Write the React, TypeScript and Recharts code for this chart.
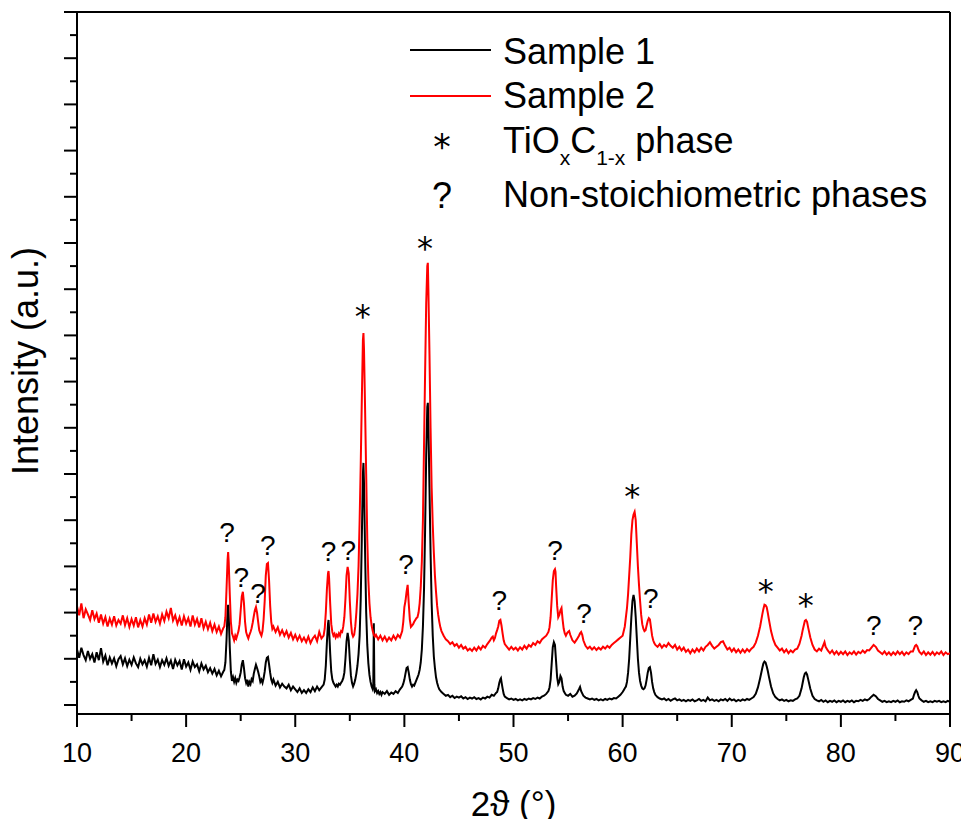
import {
  ComposedChart,
  Line,
  Scatter,
  XAxis,
  YAxis,
  ReferenceLine,
  Legend,
  Label,
} from 'recharts';

const FONT = '"Liberation Sans", Arial, sans-serif';

// 2θ (deg), intensity (a.u.)
const sample1: [number, number][] = [
  [10.0, 120], [10.2, 102], [10.4, 124], [10.6, 108], [10.8, 97], [11.0, 117], [11.2, 100], [11.4, 110],
  [11.6, 92], [11.8, 114], [12.0, 97], [12.2, 123], [12.4, 94], [12.6, 107], [12.8, 86], [13.0, 103],
  [13.2, 90], [13.4, 101], [13.6, 84], [13.8, 99], [14.0, 106], [14.2, 88], [14.4, 101], [14.6, 84],
  [14.8, 98], [15.0, 87], [15.2, 103], [15.4, 90], [15.6, 82], [15.8, 100], [16.0, 88], [16.2, 97],
  [16.4, 83], [16.6, 102], [16.8, 86], [17.0, 110], [17.2, 89], [17.4, 98], [17.6, 82], [17.8, 97],
  [18.0, 87], [18.2, 101], [18.4, 85], [18.6, 96], [18.8, 78], [19.0, 98], [19.2, 86], [19.4, 95],
  [19.6, 77], [19.8, 99], [20.0, 83], [20.2, 92], [20.4, 76], [20.6, 94], [20.8, 82], [21.0, 88],
  [21.2, 73], [21.4, 90], [21.6, 77], [21.8, 85], [22.0, 71], [22.2, 80], [22.4, 68], [22.6, 78],
  [22.8, 64], [23.0, 74], [23.2, 62], [23.4, 72], [23.5, 76], [23.6, 92], [23.7, 140], [23.8, 205],
  [23.85, 217], [23.9, 195], [24.0, 125], [24.1, 72], [24.2, 52], [24.3, 60], [24.4, 50], [24.5, 58],
  [24.6, 48], [24.7, 55], [24.8, 52], [24.9, 60], [25.0, 70], [25.1, 88], [25.2, 97], [25.3, 80],
  [25.4, 58], [25.5, 48], [25.6, 55], [25.7, 40], [25.8, 50], [25.9, 45], [26.0, 56], [26.1, 52],
  [26.2, 68], [26.3, 78], [26.4, 87], [26.5, 80], [26.6, 72], [26.7, 62], [26.8, 50], [26.9, 55],
  [27.0, 48], [27.1, 58], [27.2, 72], [27.3, 92], [27.4, 102], [27.5, 104], [27.6, 88], [27.7, 70],
  [27.8, 55], [27.9, 48], [28.0, 55], [28.2, 42], [28.4, 50], [28.6, 38], [28.8, 46], [29.0, 40],
  [29.2, 36], [29.4, 44], [29.6, 32], [29.8, 40], [30.0, 34], [30.2, 28], [30.4, 36], [30.6, 26],
  [30.8, 32], [31.0, 26], [31.2, 34], [31.4, 28], [31.6, 38], [31.8, 30], [32.0, 40], [32.2, 32],
  [32.4, 38], [32.6, 44], [32.7, 55], [32.8, 85], [32.9, 135], [33.0, 175], [33.05, 184], [33.1, 165],
  [33.2, 112], [33.3, 72], [33.4, 55], [33.5, 48], [33.6, 44], [33.7, 40], [33.8, 44], [33.9, 40],
  [34.0, 46], [34.1, 44], [34.2, 48], [34.3, 52], [34.4, 58], [34.5, 70], [34.6, 100], [34.7, 138],
  [34.8, 156], [34.9, 140], [35.0, 98], [35.1, 64], [35.2, 48], [35.3, 40], [35.4, 46], [35.5, 55],
  [35.6, 68], [35.7, 85], [35.8, 110], [35.9, 150], [36.0, 230], [36.1, 360], [36.2, 500], [36.25, 524],
  [36.3, 480], [36.4, 330], [36.5, 200], [36.6, 130], [36.7, 90], [36.8, 65], [36.9, 50], [37.0, 40],
  [37.1, 34], [37.15, 40], [37.2, 177], [37.25, 45], [37.3, 30], [37.4, 34], [37.5, 26], [37.6, 30],
  [37.7, 24], [37.8, 28], [37.9, 22], [38.0, 28], [38.2, 24], [38.4, 30], [38.6, 22], [38.8, 27],
  [39.0, 24], [39.2, 30], [39.4, 26], [39.6, 34], [39.8, 40], [39.9, 46], [40.0, 55], [40.1, 68],
  [40.2, 80], [40.3, 82], [40.4, 70], [40.5, 55], [40.6, 45], [40.7, 40], [40.8, 44], [40.9, 42],
  [41.0, 48], [41.1, 54], [41.2, 60], [41.3, 66], [41.4, 76], [41.5, 92], [41.6, 120], [41.7, 170],
  [41.8, 250], [41.9, 380], [42.0, 540], [42.1, 645], [42.15, 654], [42.2, 610], [42.3, 470], [42.4, 330],
  [42.5, 220], [42.6, 150], [42.7, 105], [42.8, 80], [42.9, 60], [43.0, 48], [43.1, 40], [43.2, 34],
  [43.4, 28], [43.6, 24], [43.8, 20], [44.0, 22], [44.2, 17], [44.4, 20], [44.6, 15], [44.8, 18],
  [45.0, 16], [45.2, 19], [45.4, 14], [45.6, 17], [45.8, 13], [46.0, 16], [46.2, 14], [46.4, 17],
  [46.6, 13], [46.8, 15], [47.0, 12], [47.2, 16], [47.4, 14], [47.6, 18], [47.8, 16], [48.0, 22],
  [48.2, 20], [48.4, 26], [48.5, 28], [48.6, 36], [48.7, 48], [48.8, 56], [48.85, 58], [48.9, 50],
  [49.0, 36], [49.1, 24], [49.2, 18], [49.4, 15], [49.6, 12], [49.8, 14], [50.0, 11], [50.2, 13],
  [50.4, 10], [50.6, 12], [50.8, 10], [51.0, 13], [51.2, 11], [51.4, 14], [51.6, 12], [51.8, 15],
  [52.0, 13], [52.2, 16], [52.4, 14], [52.6, 18], [52.8, 20], [53.0, 24], [53.2, 30], [53.3, 38],
  [53.4, 55], [53.5, 90], [53.6, 125], [53.7, 136], [53.8, 130], [53.9, 95], [54.0, 60], [54.1, 45],
  [54.2, 50], [54.3, 63], [54.4, 58], [54.5, 40], [54.6, 30], [54.7, 26], [54.8, 22], [55.0, 20],
  [55.2, 24], [55.4, 18], [55.6, 20], [55.8, 25], [56.0, 34], [56.1, 39], [56.2, 30], [56.4, 20],
  [56.6, 16], [56.8, 14], [57.0, 12], [57.2, 14], [57.4, 11], [57.6, 13], [57.8, 10], [58.0, 12],
  [58.2, 10], [58.4, 13], [58.6, 11], [58.8, 14], [59.0, 12], [59.2, 15], [59.4, 14], [59.6, 18],
  [59.8, 22], [60.0, 28], [60.1, 32], [60.2, 36], [60.3, 40], [60.4, 50], [60.5, 70], [60.6, 100],
  [60.7, 145], [60.8, 190], [60.9, 225], [61.0, 238], [61.1, 225], [61.2, 190], [61.3, 145], [61.4, 100],
  [61.5, 70], [61.6, 52], [61.7, 42], [61.8, 36], [61.9, 34], [62.0, 36], [62.1, 42], [62.2, 55],
  [62.3, 70], [62.4, 80], [62.5, 82], [62.6, 70], [62.7, 50], [62.8, 36], [62.9, 28], [63.0, 22],
  [63.2, 17], [63.4, 14], [63.6, 12], [63.8, 14], [64.0, 10], [64.2, 13], [64.4, 9], [64.6, 12],
  [64.8, 14], [65.0, 10], [65.2, 12], [65.4, 9], [65.6, 11], [65.8, 8], [66.0, 11], [66.2, 9],
  [66.4, 12], [66.6, 8], [66.8, 10], [67.0, 13], [67.2, 9], [67.4, 11], [67.6, 8], [67.8, 16],
  [68.0, 10], [68.2, 12], [68.4, 9], [68.6, 11], [68.8, 8], [69.0, 12], [69.2, 10], [69.4, 13],
  [69.6, 9], [69.8, 14], [70.0, 10], [70.2, 12], [70.4, 8], [70.6, 11], [70.8, 9], [71.0, 12],
  [71.2, 10], [71.4, 13], [71.6, 11], [71.8, 14], [72.0, 17], [72.2, 24], [72.4, 38], [72.6, 58],
  [72.8, 80], [72.9, 90], [73.0, 94], [73.1, 92], [73.2, 84], [73.3, 74], [73.4, 62], [73.6, 40],
  [73.8, 25], [74.0, 17], [74.2, 13], [74.4, 10], [74.6, 12], [74.8, 9], [75.0, 11], [75.2, 8],
  [75.4, 10], [75.6, 9], [75.8, 12], [76.0, 14], [76.2, 20], [76.4, 36], [76.5, 48], [76.6, 60],
  [76.7, 68], [76.8, 70], [76.9, 66], [77.0, 56], [77.2, 35], [77.4, 20], [77.6, 13], [77.8, 10],
  [78.0, 8], [78.2, 11], [78.4, 7], [78.6, 10], [78.8, 6], [79.0, 9], [79.2, 7], [79.4, 10],
  [79.6, 6], [79.8, 9], [80.0, 7], [80.2, 10], [80.4, 6], [80.6, 9], [80.8, 7], [81.0, 10],
  [81.2, 6], [81.4, 9], [81.6, 8], [81.8, 11], [82.0, 9], [82.2, 12], [82.4, 10], [82.6, 13],
  [82.8, 18], [83.0, 22], [83.2, 19], [83.4, 13], [83.6, 10], [83.8, 7], [84.0, 9], [84.2, 6],
  [84.4, 8], [84.6, 6], [84.8, 9], [85.0, 7], [85.2, 10], [85.4, 6], [85.6, 8], [85.8, 7],
  [86.0, 10], [86.2, 8], [86.4, 11], [86.6, 14], [86.7, 22], [86.8, 28], [86.9, 32], [87.0, 28],
  [87.1, 20], [87.2, 14], [87.4, 10], [87.6, 7], [87.8, 9], [88.0, 6], [88.2, 8], [88.4, 6],
  [88.6, 9], [88.8, 7], [89.0, 9], [89.2, 6], [89.4, 8], [89.6, 6], [89.8, 9], [90.0, 7],
];

const sample2: [number, number][] = [
  [10.0, 214], [10.2, 194], [10.4, 220], [10.6, 188], [10.8, 207], [11.0, 196], [11.2, 184], [11.4, 205],
  [11.6, 186], [11.8, 198], [12.0, 178], [12.2, 196], [12.4, 176], [12.6, 190], [12.8, 170], [13.0, 187],
  [13.2, 174], [13.4, 192], [13.6, 172], [13.8, 184], [14.0, 176], [14.2, 194], [14.4, 173], [14.6, 188],
  [14.8, 169], [15.0, 186], [15.2, 172], [15.4, 190], [15.6, 168], [15.8, 184], [16.0, 170], [16.2, 188],
  [16.4, 174], [16.6, 196], [16.8, 178], [17.0, 198], [17.2, 180], [17.4, 192], [17.6, 176], [17.8, 196],
  [18.0, 182], [18.2, 202], [18.4, 188], [18.6, 210], [18.8, 183], [19.0, 194], [19.2, 176], [19.4, 190],
  [19.6, 172], [19.8, 192], [20.0, 176], [20.2, 188], [20.4, 170], [20.6, 194], [20.8, 174], [21.0, 186],
  [21.2, 168], [21.4, 188], [21.6, 166], [21.8, 180], [22.0, 164], [22.2, 178], [22.4, 160], [22.6, 174],
  [22.8, 158], [23.0, 170], [23.2, 154], [23.4, 166], [23.5, 170], [23.6, 190], [23.7, 250], [23.8, 315],
  [23.85, 331], [23.9, 310], [24.0, 240], [24.1, 180], [24.2, 155], [24.3, 148], [24.4, 140], [24.5, 150],
  [24.6, 144], [24.7, 152], [24.8, 160], [24.9, 175], [25.0, 205], [25.1, 235], [25.2, 245], [25.3, 220],
  [25.4, 180], [25.5, 158], [25.6, 150], [25.7, 144], [25.8, 152], [25.9, 158], [26.0, 166], [26.1, 178],
  [26.2, 192], [26.3, 205], [26.4, 212], [26.5, 200], [26.6, 180], [26.7, 162], [26.8, 155], [26.9, 150],
  [27.0, 160], [27.1, 185], [27.2, 225], [27.3, 280], [27.4, 305], [27.5, 307], [27.6, 270], [27.7, 215],
  [27.8, 180], [27.9, 165], [28.0, 170], [28.2, 158], [28.4, 168], [28.6, 152], [28.8, 162], [29.0, 150],
  [29.2, 160], [29.4, 146], [29.6, 156], [29.8, 142], [30.0, 152], [30.2, 140], [30.4, 150], [30.6, 138],
  [30.8, 146], [31.0, 136], [31.2, 148], [31.4, 134], [31.6, 144], [31.8, 150], [32.0, 138], [32.2, 158],
  [32.4, 144], [32.6, 150], [32.7, 165], [32.8, 200], [32.9, 250], [33.0, 285], [33.05, 290], [33.1, 275],
  [33.2, 220], [33.3, 175], [33.4, 158], [33.5, 150], [33.6, 154], [33.7, 146], [33.8, 152], [33.9, 148],
  [34.0, 155], [34.1, 150], [34.2, 160], [34.3, 158], [34.4, 170], [34.5, 190], [34.6, 230], [34.7, 280],
  [34.8, 299], [34.9, 285], [35.0, 225], [35.1, 180], [35.2, 155], [35.3, 148], [35.4, 152], [35.5, 170],
  [35.6, 200], [35.7, 240], [35.8, 300], [35.9, 400], [36.0, 520], [36.1, 660], [36.2, 790], [36.25, 805],
  [36.3, 770], [36.4, 640], [36.5, 500], [36.6, 360], [36.7, 270], [36.8, 220], [36.9, 190], [37.0, 172],
  [37.1, 160], [37.2, 152], [37.3, 148], [37.4, 152], [37.6, 142], [37.8, 150], [38.0, 140], [38.2, 148],
  [38.4, 138], [38.6, 146], [38.8, 140], [39.0, 150], [39.2, 142], [39.4, 152], [39.6, 146], [39.8, 160],
  [39.9, 180], [40.0, 212], [40.1, 225], [40.2, 245], [40.3, 260], [40.4, 220], [40.5, 185], [40.6, 169],
  [40.7, 172], [40.8, 175], [40.9, 180], [41.0, 184], [41.1, 188], [41.2, 190], [41.3, 200], [41.4, 220],
  [41.5, 255], [41.6, 310], [41.7, 400], [41.8, 560], [41.9, 720], [42.0, 870], [42.1, 950], [42.15, 957],
  [42.2, 900], [42.3, 760], [42.4, 600], [42.5, 470], [42.6, 390], [42.7, 330], [42.8, 280], [42.9, 245],
  [43.0, 215], [43.1, 195], [43.2, 180], [43.3, 168], [43.4, 160], [43.6, 150], [43.8, 142], [44.0, 138],
  [44.2, 132], [44.4, 136], [44.6, 128], [44.8, 132], [45.0, 124], [45.2, 130], [45.4, 122], [45.6, 126],
  [45.8, 118], [46.0, 122], [46.2, 117], [46.4, 124], [46.6, 118], [46.8, 126], [47.0, 120], [47.2, 128],
  [47.4, 124], [47.6, 132], [47.8, 138], [47.9, 142], [48.0, 146], [48.1, 148], [48.2, 140], [48.3, 145],
  [48.4, 155], [48.5, 162], [48.6, 170], [48.7, 182], [48.8, 184], [48.9, 172], [49.0, 155], [49.1, 140],
  [49.2, 132], [49.4, 126], [49.6, 120], [49.8, 126], [50.0, 120], [50.2, 124], [50.4, 118], [50.6, 125],
  [50.8, 120], [51.0, 128], [51.2, 122], [51.4, 130], [51.6, 126], [51.8, 134], [52.0, 130], [52.2, 138],
  [52.4, 134], [52.6, 142], [52.8, 146], [53.0, 150], [53.2, 158], [53.3, 168], [53.4, 190], [53.5, 230],
  [53.6, 270], [53.7, 290], [53.8, 294], [53.85, 288], [53.9, 260], [54.0, 215], [54.1, 190], [54.2, 195],
  [54.3, 205], [54.4, 210], [54.5, 185], [54.6, 165], [54.7, 155], [54.8, 150], [54.9, 155], [55.0, 158],
  [55.1, 160], [55.2, 152], [55.4, 140], [55.6, 135], [55.8, 142], [56.0, 150], [56.1, 155], [56.2, 158],
  [56.3, 152], [56.4, 140], [56.6, 128], [56.8, 122], [57.0, 126], [57.2, 120], [57.4, 125], [57.6, 119],
  [57.8, 124], [58.0, 120], [58.2, 126], [58.4, 122], [58.6, 128], [58.8, 124], [59.0, 130], [59.2, 134],
  [59.4, 138], [59.6, 142], [59.8, 146], [60.0, 150], [60.2, 170], [60.3, 190], [60.4, 210], [60.5, 240],
  [60.6, 280], [60.7, 320], [60.8, 370], [60.9, 400], [61.0, 412], [61.1, 418], [61.2, 400], [61.3, 350],
  [61.4, 300], [61.5, 260], [61.6, 225], [61.7, 195], [61.8, 175], [61.9, 165], [62.0, 160], [62.1, 162],
  [62.2, 172], [62.3, 182], [62.4, 188], [62.5, 185], [62.6, 168], [62.7, 150], [62.8, 140], [62.9, 134],
  [63.0, 130], [63.2, 126], [63.4, 132], [63.6, 124], [63.8, 130], [64.0, 126], [64.2, 134], [64.4, 128],
  [64.6, 124], [64.8, 130], [65.0, 120], [65.2, 126], [65.4, 118], [65.6, 124], [65.8, 115], [66.0, 120],
  [66.2, 112], [66.4, 120], [66.6, 114], [66.8, 122], [67.0, 116], [67.2, 124], [67.4, 118], [67.6, 126],
  [67.8, 130], [68.0, 136], [68.2, 128], [68.4, 122], [68.6, 126], [68.8, 130], [69.0, 136], [69.2, 138],
  [69.4, 128], [69.6, 120], [69.8, 124], [70.0, 116], [70.2, 122], [70.4, 114], [70.6, 120], [70.8, 113],
  [71.0, 120], [71.2, 114], [71.4, 121], [71.6, 116], [71.8, 122], [72.0, 126], [72.2, 135], [72.4, 150],
  [72.6, 170], [72.8, 196], [72.9, 208], [73.0, 217], [73.1, 216], [73.2, 212], [73.3, 200], [73.4, 186],
  [73.6, 160], [73.8, 142], [74.0, 130], [74.2, 124], [74.4, 118], [74.6, 122], [74.8, 114], [75.0, 120],
  [75.2, 112], [75.4, 118], [75.6, 114], [75.8, 120], [76.0, 122], [76.2, 132], [76.4, 150], [76.5, 162],
  [76.6, 172], [76.7, 182], [76.8, 184], [76.9, 180], [77.0, 168], [77.2, 146], [77.4, 130], [77.6, 120],
  [77.8, 116], [78.0, 122], [78.2, 118], [78.4, 130], [78.5, 136], [78.6, 126], [78.8, 118], [79.0, 112],
  [79.2, 118], [79.4, 110], [79.6, 116], [79.8, 109], [80.0, 115], [80.2, 110], [80.4, 116], [80.6, 108],
  [80.8, 114], [81.0, 110], [81.2, 116], [81.4, 109], [81.6, 115], [81.8, 112], [82.0, 118], [82.2, 113],
  [82.4, 119], [82.6, 118], [82.8, 124], [83.0, 130], [83.2, 126], [83.4, 118], [83.6, 114], [83.8, 110],
  [84.0, 116], [84.2, 109], [84.4, 114], [84.6, 108], [84.8, 114], [85.0, 109], [85.2, 116], [85.4, 110],
  [85.6, 115], [85.8, 108], [86.0, 114], [86.2, 110], [86.4, 116], [86.6, 116], [86.7, 122], [86.8, 128],
  [86.9, 130], [87.0, 127], [87.1, 120], [87.2, 115], [87.4, 110], [87.6, 116], [87.8, 108], [88.0, 114],
  [88.2, 109], [88.4, 115], [88.6, 108], [88.8, 114], [89.0, 110], [89.2, 116], [89.4, 108], [89.6, 114],
  [89.8, 110], [90.0, 112],
];

// peak markers: [2θ, height where the symbol sits]
const tiocPeaks: [number, number][] = [
  [36.19, 855], [41.9, 1003], [60.88, 465], [73.12, 260], [76.78, 229],
];
const unknownPeaks: [number, number][] = [
  [23.74, 375], [25.05, 278], [26.58, 242], [27.49, 346], [33.06, 333], [34.87, 336], [40.16, 305],
  [48.7, 227], [53.8, 336], [56.46, 200], [62.59, 232], [83.02, 173], [86.83, 173],
];

const xTicks = [10, 15, 20, 25, 30, 35, 40, 45, 50, 55, 60, 65, 70, 75, 80, 85, 90];
const yTicks = [
  0, 50, 100, 150, 200, 250, 300, 350, 400, 450, 500, 550, 600, 650, 700, 750,
  800, 850, 900, 950, 1000, 1050, 1100, 1150, 1200, 1250, 1300, 1350, 1400, 1450, 1500,
];

const toPoints = (rows: [number, number][]) => rows.map(([x, y]) => ({ x, y }));

function XTick({ x, y, payload }: any) {
  const major = payload.value % 10 === 0;
  return (
    <g>
      <line x1={x} y1={y} x2={x} y2={y + (major ? 13 : 7)} stroke="#000" strokeWidth={2} />
      {major && (
        <text x={x} y={y + 48} textAnchor="middle" fontSize={27} fontFamily={FONT} fill="#000">
          {payload.value}
        </text>
      )}
    </g>
  );
}

function YTick({ x, y, payload }: any) {
  const major = payload.value % 100 === 0;
  return <line x1={x} y1={y} x2={x - (major ? 13 : 7)} y2={y} stroke="#000" strokeWidth={2} />;
}

const QuestionMark = (props: any) => (
  <text x={props.cx} y={props.cy + 10} textAnchor="middle" fontSize={28} fontFamily={FONT} fill="#000">
    ?
  </text>
);

const Asterisk = (props: any) => (
  <text x={props.cx} y={props.cy + 17} textAnchor="middle" fontSize={32} fontFamily="DejaVu Sans" fill="#000">
    *
  </text>
);

function XTitle({ viewBox }: any) {
  const vb = viewBox ?? { x: 77, y: 714, width: 873, height: 113 };
  return (
    <text x={vb.x + vb.width / 2} y={vb.y + 102} textAnchor="middle" fontSize={35} fontFamily={FONT} fill="#000">
      2ϑ (°)
    </text>
  );
}

function YTitle({ viewBox }: any) {
  const vb = viewBox ?? { x: 0, y: 12, width: 77, height: 702 };
  const cx = vb.x + 38;
  const cy = vb.y + vb.height / 2 - 2;
  return (
    <text
      x={cx}
      y={cy}
      transform={`rotate(-90, ${cx}, ${cy})`}
      textAnchor="middle"
      fontSize={36}
      fontFamily={FONT}
      fill="#000"
    >
      Intensity (a.u.)
    </text>
  );
}

function PhaseLegend() {
  const txt = { fontSize: 36, fontFamily: FONT, fill: '#000' };
  return (
    <svg width={560} height={200} style={{ display: 'block', overflow: 'visible' }}>
      <line x1={10} y1={25} x2={91} y2={25} stroke="#000" strokeWidth={2} />
      <text x={103} y={39} {...txt}>Sample 1</text>
      <line x1={10} y1={71} x2={91} y2={71} stroke="#ff0000" strokeWidth={2} />
      <text x={103} y={83} {...txt}>Sample 2</text>
      <text x={42} y={134} textAnchor="middle" fontSize={35} fontFamily="DejaVu Sans" fill="#000">*</text>
      <text x={103} y={128} {...txt}>
        TiO
        <tspan fontSize={21} dy={12}>x</tspan>
        <tspan dy={-12}>C</tspan>
        <tspan fontSize={21} dy={12}>1-x</tspan>
        <tspan dy={-12}> phase</tspan>
      </text>
      <text x={42} y={183} textAnchor="middle" {...txt}>?</text>
      <text x={103} y={182} {...txt}>Non-stoichiometric phases</text>
    </svg>
  );
}

export default function App() {
  return (
    <div style={{ margin: -8 }}>
      <ComposedChart width={969} height={827} margin={{ top: 12, right: 19, bottom: 0, left: 0 }}>
        <XAxis
          type="number"
          dataKey="x"
          domain={[10, 90]}
          ticks={xTicks}
          interval={0}
          allowDataOverflow
          height={113}
          tickSize={0}
          tickMargin={0}
          tickLine={false}
          tick={<XTick />}
          axisLine={{ stroke: '#000', strokeWidth: 2 }}
        >
          <Label content={XTitle} />
        </XAxis>
        <YAxis
          type="number"
          domain={[-19.5, 1500]}
          ticks={yTicks}
          interval={0}
          allowDataOverflow
          width={77}
          tickSize={0}
          tickMargin={0}
          tickLine={false}
          tick={<YTick />}
          axisLine={{ stroke: '#000', strokeWidth: 2 }}
        >
          <Label content={YTitle} />
        </YAxis>
        <ReferenceLine y={1500} stroke="#000" strokeWidth={2} />
        <ReferenceLine x={90} stroke="#000" strokeWidth={2} />
        <Line
          data={toPoints(sample1)}
          dataKey="y"
          type="linear"
          stroke="#000000"
          strokeWidth={2}
          dot={false}
          isAnimationActive={false}
        />
        <Line
          data={toPoints(sample2)}
          dataKey="y"
          type="linear"
          stroke="#ff0000"
          strokeWidth={2}
          dot={false}
          isAnimationActive={false}
        />
        <Scatter data={toPoints(tiocPeaks)} dataKey="y" shape={Asterisk} isAnimationActive={false} />
        <Scatter data={toPoints(unknownPeaks)} dataKey="y" shape={QuestionMark} isAnimationActive={false} />
        <Legend
          layout="horizontal"
          verticalAlign="middle"
          align="center"
          content={() => <PhaseLegend />}
          wrapperStyle={{ left: 400, top: 25, width: 560, height: 200 }}
        />
      </ComposedChart>
    </div>
  );
}
